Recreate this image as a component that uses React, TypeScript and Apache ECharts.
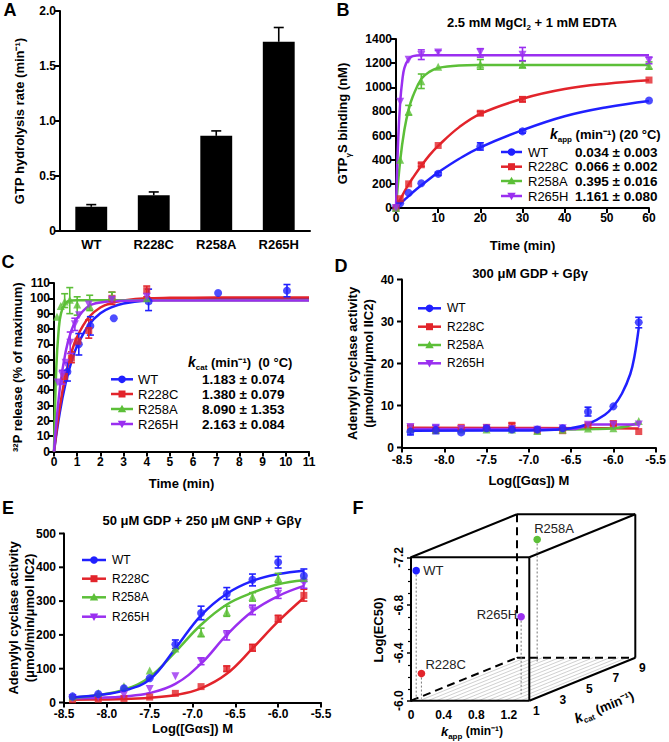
import React, { useEffect, useRef } from 'react';
import * as echarts from 'echarts';

const FONT = '"Liberation Sans", Arial, Helvetica, sans-serif';

const mutants = ['WT', 'R228C', 'R258A', 'R265H'];

// ---------- Panel A ----------
const aCategories = ['WT', 'R228C', 'R258A', 'R265H'];
const aRates = [0.22, 0.325, 0.865, 1.72];
const aErrTop = [0.24, 0.355, 0.91, 1.85];

// ---------- Panel B ----------
const bTimes = [0, 1, 3, 6, 10, 20, 30, 60];
const bWT = [0, 40, 125, 205, 283, 510, 635, 890];
const bR228C = [0, 77, 200, 358, 518, 785, 900, 1060];
const bR258A = [0, 400, 800, 1050, 1170, 1190, 1185, 1180];
const bR265H = [0, 880, 1228, 1268, 1288, 1290, 1270, 1220];
const bFitTimes = [0, 1, 2, 3, 4, 6, 8, 10, 15, 20, 30, 40, 50, 60];
const bFitWT = [0, 34, 67, 98, 130, 188, 243, 295, 408, 503, 645, 760, 835, 887];
const bFitR228C = [0, 70, 135, 195, 250, 350, 440, 515, 670, 780, 905, 985, 1030, 1058];
const bFitR258A = [0, 395, 650, 815, 925, 1070, 1130, 1160, 1180, 1184, 1185, 1185, 1185, 1185];
const bFitR265HTimes = [0, 0.5, 1, 1.5, 2, 3, 4, 6, 10, 60];
const bFitR265H = [0, 550, 880, 1060, 1160, 1235, 1258, 1265, 1265, 1265];
const bErrWT = [[10, 270, 296], [20, 480, 540], [30, 620, 650]];
const bErrR228C = [[6, 345, 372], [20, 770, 800], [30, 880, 920]];
const bErrR258A = [[3, 770, 850], [6, 990, 1110], [20, 1150, 1230], [30, 1165, 1215], [60, 1150, 1210]];
const bErrR265H = [[6, 1230, 1310], [10, 1270, 1305], [20, 1250, 1320], [30, 1220, 1330], [60, 1195, 1250]];
const bKappText = ['0.034 ± 0.003', '0.066 ± 0.002', '0.395 ± 0.016', '1.161 ± 0.080'];

// ---------- Panel C ----------
const cWTt = [0.58, 1.07, 1.57, 2.58, 4.08, 7.08, 10.05];
const cWT = [52, 70, 82, 87, 98, 103.5, 105];
const cR228Ct = [0.45, 0.75, 1.03, 1.5, 2.5, 4.0];
const cR228C = [49, 61, 72, 79, 100, 105];
const cR258At = [0.13, 0.29, 0.46, 0.68, 1.0, 1.54, 2.5, 4.0];
const cR258A = [88, 95, 98, 99, 96, 95, 101, 100];
const cR265Ht = [0.17, 0.36, 0.5, 0.7, 0.9, 1.08, 1.5, 2.5, 4.0];
const cR265H = [45, 50, 58, 71, 83, 89, 96, 99, 101];
const cFitT = [0, 0.25, 0.5, 0.75, 1, 1.5, 2, 2.5, 3, 4, 5, 7, 11];
const cFitWT = [0, 25.5, 44.6, 58.5, 69, 82.6, 90.3, 94.3, 96.6, 98.6, 99.2, 99.5, 99.5];
const cFitR228C = [0, 29, 50, 64.5, 75, 87.6, 94, 97, 98.6, 100, 100.3, 100.5, 100.5];
const cFitR258At = [0, 0.1, 0.2, 0.3, 0.5, 0.75, 1, 11];
const cFitR258A = [0, 55, 79, 90, 97, 98.6, 98.8, 98.8];
const cFitR265Ht = [0, 0.25, 0.5, 0.75, 1, 1.5, 2, 3, 4, 11];
const cFitR265H = [0, 41, 65, 79, 87, 95, 97.3, 98.4, 98.5, 98.5];
const cErrWT = [[0.58, 46, 58], [1.07, 63, 77], [1.57, 76, 88], [4.08, 92, 106], [10.05, 101, 109]];
const cErrR228C = [[0.75, 58, 65], [1.5, 74, 86], [2.5, 96, 104], [4.0, 101, 108]];
const cErrR258A = [[0.46, 94, 103], [0.68, 90, 107], [1.0, 89, 101], [1.54, 92, 102], [2.5, 100, 104]];
const cErrR265H = [[0.36, 44, 53], [0.7, 64, 78], [0.9, 79, 87]];
const cKcatText = ['1.183 ± 0.074', '1.380 ± 0.079', '8.090 ± 1.353', '2.163 ± 0.084'];

// ---------- Panel D ----------
const logGas = [-8.4, -8.1, -7.8, -7.5, -7.2, -6.9, -6.6, -6.3, -6.0, -5.7];
const dWT = [3.8, 4.2, 3.6, 4.6, 4.3, 4.3, 4.6, 8.5, 9.8, 29.8];
const dR228C = [4.8, 4.2, 4.8, 4.8, 5.3, 4.0, 4.0, 5.3, 5.7, 3.8];
const dR258A = [4.4, 4.3, 4.3, 4.3, 4.3, 3.9, 4.2, 4.5, 4.6, 6.3];
const dR265H = [4.9, 4.7, 4.4, 4.6, 4.4, 4.2, 4.6, 5.4, 5.4, 5.5];
const dFitWTx = [-8.4, -7.0, -6.7, -6.5, -6.3, -6.1, -6.0, -5.9, -5.8, -5.75, -5.7];
const dFitWT = [4.0, 4.05, 4.2, 4.6, 5.6, 7.8, 9.8, 12.8, 17.5, 21.8, 28.5];
const dFitR228Cx = [-8.4, -6.3, -5.7];
const dFitR228C = [4.7, 4.6, 4.5];
const dFitR258Ax = [-8.4, -6.5, -6.2, -6.0, -5.85, -5.7];
const dFitR258A = [4.3, 4.3, 4.4, 4.6, 5.0, 6.0];
const dFitR265Hx = [-8.4, -6.45, -6.35, -6.25, -5.7];
const dFitR265H = [4.4, 4.4, 5.0, 5.5, 5.5];
const dErrWT = [[-8.4, 3, 5.2], [-8.1, 3.3, 5.3], [-6.3, 7.5, 9.6], [-5.7, 28.5, 31]];
const dErrR228C = [[-7.2, 4.8, 5.8], [-6.0, 5.2, 6.2]];
const dYTicks = [0, 10, 20, 30, 40];

// ---------- Panel E ----------
const eWT = [18, 25, 42, 72, 172, 265, 322, 363, 415, 375];
const eR228C = [8, 10, 12, 16, 27, 47, 100, 162, 248, 317];
const eR258A = [18, 28, 48, 95, 160, 205, 268, 313, 368, 368];
const eR265H = [13, 16, 22, 40, 78, 122, 198, 273, 322, 352];
const eFitWT = [15, 22, 35, 68, 160, 258, 322, 360, 380, 390];
const eFitR228C = [8, 9, 10, 14, 22, 42, 85, 160, 240, 310];
const eFitR258A = [14, 22, 38, 75, 150, 230, 290, 325, 350, 362];
const eFitR265H = [12, 14, 18, 28, 55, 115, 200, 270, 315, 345];
const eErrWT = [[-7.2, 160, 185], [-6.9, 245, 285], [-6.6, 305, 340], [-6.3, 345, 380], [-6.0, 398, 432], [-5.7, 358, 395]];
const eErrR228C = [[-6.6, 92, 108], [-6.3, 152, 172], [-6.0, 238, 258], [-5.7, 300, 335]];
const eErrR258A = [[-6.9, 195, 220], [-6.6, 255, 285], [-6.3, 300, 325], [-6.0, 355, 382]];
const eErrR265H = [[-6.9, 112, 132], [-6.6, 185, 212], [-6.3, 260, 288], [-6.0, 308, 338], [-5.7, 338, 365]];
const eYTicks = [0, 100, 200, 300, 400, 500];

// ---------- Panel F ----------
const fKapp = [0.034, 0.066, 0.395, 1.161];
const fKcat = [1.183, 1.38, 8.09, 2.163];
const fLogEC50 = [-7.08, -6.21, -7.03, -6.65];
const fDepthTicks = [1, 3, 5, 7, 9];

// ---------- styles ----------
const COLORS: Record<string, string> = { WT: '#2020ff', R228C: '#e2242b', R258A: '#5cbf38', R265H: '#9a2ff0' };
const SYMBOLS: Record<string, string> = { WT: 'circle', R228C: 'rect', R258A: 'triangle', R265H: 'path://M0,0L10,0L5,9Z' };

const GRIDS = [
  { left: 60, top: 11, width: 250, height: 220 },
  { left: 396, top: 39, width: 253, height: 169 },
  { left: 54, top: 283, width: 255, height: 168.5 },
  { left: 402, top: 279.5, width: 254, height: 168 },
  { left: 64, top: 533.5, width: 257, height: 169 },
];

// F box geometry (front face + oblique depth)
const FX0 = 411, FY0 = 557.3, FX1 = 529.3, FY1 = 700.7, DX = 106, DY = -43;
const K0 = 1, K1 = 9;

const zip = (xs: number[], ys: number[]) => xs.map((x, i) => [x, ys[i]]);

const errRender = (color: string, cap: number, topOnly = false) => (params: any, api: any) => {
  const x = api.value(0), lo = api.value(1), hi = api.value(2);
  const a = api.coord([x, lo]);
  const b = api.coord([x, hi]);
  const st = { stroke: color, lineWidth: 1.6 };
  const children: any[] = [
    { type: 'line', shape: { x1: a[0], y1: a[1], x2: b[0], y2: b[1] }, style: st },
    { type: 'line', shape: { x1: b[0] - cap, y1: b[1], x2: b[0] + cap, y2: b[1] }, style: st },
  ];
  if (!topOnly) children.push({ type: 'line', shape: { x1: a[0] - cap, y1: a[1], x2: a[0] + cap, y2: a[1] }, style: st });
  return { type: 'group', children };
};

function panelSeries(gi: number, name: string, pts: number[][], fit: number[][], err: number[][], smooth: any = 0.4) {
  const c = COLORS[name];
  return [
    {
      type: 'line', name, xAxisIndex: gi, yAxisIndex: gi, data: fit, smooth,
      symbol: 'none', showSymbol: false, lineStyle: { color: c, width: 2.5 }, z: 2, silent: true,
    },
    {
      type: 'custom', xAxisIndex: gi, yAxisIndex: gi, data: err, encode: { x: 0, y: [1, 2] },
      renderItem: errRender(c, 3.5), z: 3, silent: true,
    },
    {
      type: 'scatter', name, xAxisIndex: gi, yAxisIndex: gi, data: pts, symbol: SYMBOLS[name],
      symbolSize: name === 'R228C' ? 7 : 8, itemStyle: { color: c }, z: 4, silent: true,
    },
  ];
}

const label = (fs = 12, extra: any = {}) => ({ color: '#000', fontFamily: FONT, fontWeight: 'bold', fontSize: fs, margin: 4, ...extra });
const nameStyle = (extra: any = {}) => ({ color: '#000', fontFamily: FONT, fontWeight: 'bold', fontSize: 13, ...extra });

function vAxis(gi: number, pos: string, min: number, max: number, interval: number, extra: any = {}) {
  return {
    type: 'value', gridIndex: gi, min, max, interval, position: pos, offset: 0,
    axisLine: { show: true, onZero: false, lineStyle: { color: '#000', width: 2 } },
    axisTick: { show: extra.hideTicks ? false : true, length: 5, lineStyle: { color: '#000', width: 2 } },
    axisLabel: label(12, {
      show: extra.hideTicks ? false : true,
      formatter: (v: number) => String(v),
      ...(extra.labelExtra || {}),
    }),
    splitLine: { show: false },
    nameLocation: 'middle',
    nameTextStyle: nameStyle(extra.nameExtra || {}),
    name: extra.name || '',
    nameGap: extra.nameGap || 30,
  };
}

function txt(x: number, y: number, text: string, o: any = {}) {
  return {
    type: 'text', x, y, silent: true, rotation: o.rotation || 0, z: 50,
    style: {
      text, fill: '#000', fontFamily: FONT, fontSize: o.fontSize || 12, fontWeight: o.fontWeight || 'normal',
      fontStyle: o.fontStyle || 'normal',
      align: o.align || 'left', verticalAlign: o.verticalAlign || 'middle', rich: o.rich,
    },
  };
}

function symbolEl(name: string, cx: number, cy: number) {
  const c = COLORS[name];
  if (name === 'WT') return { type: 'circle', shape: { cx, cy, r: 3.8 }, style: { fill: c }, silent: true };
  if (name === 'R228C') return { type: 'rect', shape: { x: cx - 3.5, y: cy - 3.5, width: 7, height: 7 }, style: { fill: c }, silent: true };
  if (name === 'R258A') return { type: 'polygon', shape: { points: [[cx, cy - 4.2], [cx + 4.2, cy + 3.2], [cx - 4.2, cy + 3.2]] }, style: { fill: c }, silent: true };
  return { type: 'polygon', shape: { points: [[cx - 4.2, cy - 3.2], [cx + 4.2, cy - 3.2], [cx, cy + 4.2]] }, style: { fill: c }, silent: true };
}

function legendEls(x1: number, x2: number, nameX: number, ys: number[], fs: number, values?: string[], valueX?: number, valueFs?: number) {
  const els: any[] = [];
  mutants.forEach((m, i) => {
    const y = ys[i];
    els.push({ type: 'line', shape: { x1, y1: y, x2, y2: y }, style: { stroke: COLORS[m], lineWidth: 2.5 }, silent: true });
    els.push(symbolEl(m, (x1 + x2) / 2, y));
    els.push(txt(nameX, y, m, { fontSize: fs }));
    if (values && valueX !== undefined) els.push(txt(valueX, y, values[i], { fontSize: valueFs || fs, fontWeight: 'bold' }));
  });
  return els;
}

const subRich = (fs: number) => ({
  a: { fontFamily: FONT, fontSize: fs, fontWeight: 'bold', color: '#000', lineHeight: fs + 6, verticalAlign: 'middle' },
  k: { fontFamily: FONT, fontSize: fs + 1, fontWeight: 'bold', fontStyle: 'italic', color: '#000', lineHeight: fs + 6, verticalAlign: 'middle' },
  s: { fontFamily: FONT, fontSize: Math.round(fs * 0.65), fontWeight: 'bold', color: '#000', lineHeight: fs + 6, verticalAlign: 'bottom' },
});

function fGraphic() {
  const els: any[] = [];
  const W = FX1 - FX0;
  const L = (x1: number, y1: number, x2: number, y2: number, style: any) => ({ type: 'line', shape: { x1, y1, x2, y2 }, style, silent: true });
  const solid = { stroke: '#000', lineWidth: 2 };
  const dashed = { stroke: '#000', lineWidth: 2, lineDash: [8, 5] };
  for (let i = 1; i < 14; i++) {
    const x = FX0 + (W * i) / 14;
    els.push(L(x, FY1, x + DX, FY1 + DY, { stroke: '#c4c4c4', lineWidth: 0.8 }));
  }
  els.push(L(FX0 + DX, FY0 + DY, FX0 + DX, FY1 + DY, dashed));
  els.push(L(FX0 + DX, FY1 + DY, FX1 + DX, FY1 + DY, dashed));
  els.push(L(FX0, FY1, FX0 + DX, FY1 + DY, dashed));
  els.push(L(FX0, FY0, FX1, FY0, solid));
  els.push(L(FX1, FY0, FX1, FY1, solid));
  els.push(L(FX0, FY1, FX1, FY1, solid));
  els.push(L(FX0, FY0, FX0 + DX, FY0 + DY, solid));
  els.push(L(FX1, FY0, FX1 + DX, FY0 + DY, solid));
  els.push(L(FX0 + DX, FY0 + DY, FX1 + DX, FY0 + DY, solid));
  els.push(L(FX1 + DX, FY0 + DY, FX1 + DX, FY1 + DY, solid));
  els.push(L(FX1, FY1, FX1 + DX, FY1 + DY, solid));
  fDepthTicks.forEach((k) => {
    const f = (k - K0) / (K1 - K0);
    els.push(txt(FX1 + f * DX + 7, FY1 + f * DY + 10, String(k), { fontSize: 12, fontWeight: 'bold', align: 'center' }));
  });
  els.push(txt(604, 707, '{k|k}{s|cat}{a| (min⁻¹)}', { rich: subRich(13), align: 'center', rotation: Math.atan2(-DY, DX) }));
  els.push(txt(472, 731, '{k|k}{s|app}{a| (min⁻¹)}', { rich: subRich(12), align: 'center' }));
  els.push(txt(378, 630, 'Log(EC50)', { fontSize: 13, fontWeight: 'bold', align: 'center', rotation: Math.PI / 2 }));
  return els;
}

// y-axis ticks + labels for D and E, placed along each grid's linear value range
function yTickEls(gi: number, min: number, max: number, ticks: number[]) {
  const g = GRIDS[gi];
  const els: any[] = [];
  ticks.forEach((v) => {
    const y = g.top + g.height * (1 - (v - min) / (max - min));
    els.push({ type: 'line', shape: { x1: g.left - 5, y1: y, x2: g.left, y2: y }, style: { stroke: '#000', lineWidth: 2 }, silent: true, z: 50 });
    els.push(txt(g.left - 8, y, String(v), { fontSize: 12, fontWeight: 'bold', align: 'right' }));
  });
  return els;
}

const fLabelOffsets = [[7, 0, 'left'], [4, -9, 'left'], [-3, -11, 'left'], [-4, -2, 'right']];

function baseGraphic() {
  return [
    txt(10, 10, 'A', { fontSize: 18, fontWeight: 'bold', align: 'center' }),
    txt(343, 10, 'B', { fontSize: 18, fontWeight: 'bold', align: 'center' }),
    txt(8, 262, 'C', { fontSize: 18, fontWeight: 'bold', align: 'center' }),
    txt(341, 266, 'D', { fontSize: 18, fontWeight: 'bold', align: 'center' }),
    txt(8, 508, 'E', { fontSize: 18, fontWeight: 'bold', align: 'center' }),
    txt(358, 508, 'F', { fontSize: 18, fontWeight: 'bold', align: 'center' }),
    txt(532, 22, '{a|2.5 mM MgCl}{s|2}{a| + 1 mM EDTA}', { rich: subRich(13), align: 'center' }),
    txt(530, 273, '300 μM GDP + Gβγ', { fontSize: 13, fontWeight: 'bold', align: 'center' }),
    txt(202, 520, '50 μM GDP + 250 μM GNP + Gβγ', { fontSize: 13, fontWeight: 'bold', align: 'center' }),
    txt(352, 363.5, 'Adenylyl cyclase activity', { fontSize: 13, fontWeight: 'bold', align: 'center', rotation: Math.PI / 2 }),
    txt(368, 363.5, '(μmol/min/μmol IIC2)', { fontSize: 13, fontWeight: 'bold', align: 'center', rotation: Math.PI / 2 }),
    txt(13, 618, 'Adenylyl cyclase activity', { fontSize: 13, fontWeight: 'bold', align: 'center', rotation: Math.PI / 2 }),
    txt(29, 618, '(μmol/min/μmol IIC2)', { fontSize: 13, fontWeight: 'bold', align: 'center', rotation: Math.PI / 2 }),
    txt(550, 134, '{k|k}{s|app}{a| (min⁻¹) (20 °C)}', { rich: subRich(13) }),
    txt(188, 362, '{k|k}{s|cat}{a| (min⁻¹)  (0 °C)}', { rich: subRich(13) }),
    ...legendEls(501, 522, 528, [152, 166.7, 181, 196], 13, bKappText, 575, 13.5),
    ...legendEls(111, 133, 138, [379.3, 394, 409, 424], 13, cKcatText, 202, 13.5),
    ...legendEls(418, 441, 447, [308.3, 326.7, 345, 363.3], 12),
    ...legendEls(82, 106, 112, [560, 578.7, 597.3, 616.7], 12),
    ...yTickEls(3, 0, 40, dYTicks),
    ...yTickEls(4, 0, 500, eYTicks),
    ...fGraphic(),
  ];
}

function buildOption() {
  const grids = [...GRIDS, { left: FX0, top: FY0, width: FX1 - FX0, height: FY1 - FY0 }];
  const fmt1 = (v: number) => (Math.abs(v) < 1e-9 ? '0' : v.toFixed(1));
  const xAxis: any[] = [
    {
      type: 'category', gridIndex: 0, data: aCategories, boundaryGap: true, position: 'bottom',
      axisLine: { show: true, lineStyle: { color: '#000', width: 2 } },
      axisTick: { show: false },
      axisLabel: label(13, { margin: 7 }),
    },
    vAxis(1, 'bottom', 0, 60, 10, { name: 'Time (min)', nameGap: 31 }),
    vAxis(2, 'bottom', 0, 11, 1, { name: 'Time (min)', nameGap: 25 }),
    vAxis(3, 'bottom', -8.5, -5.5, 0.5, { name: 'Log([Gαs]) M', nameGap: 26, labelExtra: { formatter: fmt1, margin: 6 } }),
    vAxis(4, 'bottom', -8.5, -5.5, 0.5, { name: 'Log([Gαs]) M', nameGap: 19, labelExtra: { formatter: fmt1, margin: 5 } }),
    {
      type: 'value', gridIndex: 5, min: 0, max: 1.45, interval: 0.4, position: 'bottom',
      axisLine: { show: false }, axisTick: { show: false }, splitLine: { show: false },
      axisLabel: label(12, { margin: 8, formatter: fmt1, showMaxLabel: false }),
    },
  ];
  const yAxis: any[] = [
    vAxis(0, 'left', 0, 2, 0.5, { name: 'GTP hydrolysis rate (min⁻¹)', nameGap: 34, labelExtra: { formatter: fmt1 } }),
    vAxis(1, 'left', 0, 1400, 200, {
      name: '{a|GTP}{s|γ}{a|S binding (nM)}', nameGap: 44,
      nameExtra: { rich: subRich(13) },
    }),
    vAxis(2, 'left', 0, 110, 10, { name: '³²P release (% of maximum)', nameGap: 30 }),
    vAxis(3, 'left', 0, 40, 10, { hideTicks: true }),
    vAxis(4, 'left', 0, 500, 100, { hideTicks: true }),
    {
      type: 'value', gridIndex: 5, min: -7.2, max: -6.0, interval: 0.4, inverse: true, position: 'left',
      axisLine: { show: true, lineStyle: { color: '#000', width: 2 } },
      axisTick: { show: true, length: 4, lineStyle: { color: '#000', width: 1.5 } },
      minorTick: { show: true, splitNumber: 4, length: 3, lineStyle: { color: '#000', width: 1.2 } },
      splitLine: { show: false },
      axisLabel: label(12, { margin: 6, rotate: 90, formatter: fmt1 }),
    },
  ];

  const series: any[] = [
    {
      type: 'bar', xAxisIndex: 0, yAxisIndex: 0, data: aRates, barWidth: '51%',
      itemStyle: { color: '#000' }, silent: true, z: 2,
    },
    {
      type: 'custom', xAxisIndex: 0, yAxisIndex: 0, encode: { x: 0, y: [1, 2] },
      data: aCategories.map((_, i) => [i, aRates[i], aErrTop[i]]),
      renderItem: errRender('#000', 5, true), z: 3, silent: true,
    },
    ...panelSeries(1, 'WT', zip(bTimes, bWT), zip(bFitTimes, bFitWT), bErrWT),
    ...panelSeries(1, 'R228C', zip(bTimes, bR228C), zip(bFitTimes, bFitR228C), bErrR228C),
    ...panelSeries(1, 'R258A', zip(bTimes, bR258A), zip(bFitTimes, bFitR258A), bErrR258A),
    ...panelSeries(1, 'R265H', zip(bTimes, bR265H), zip(bFitR265HTimes, bFitR265H), bErrR265H),
    ...panelSeries(2, 'WT', zip(cWTt, cWT), zip(cFitT, cFitWT), cErrWT),
    ...panelSeries(2, 'R228C', zip(cR228Ct, cR228C), zip(cFitT, cFitR228C), cErrR228C),
    ...panelSeries(2, 'R258A', zip(cR258At, cR258A), zip(cFitR258At, cFitR258A), cErrR258A),
    ...panelSeries(2, 'R265H', zip(cR265Ht, cR265H), zip(cFitR265Ht, cFitR265H), cErrR265H),
    ...panelSeries(3, 'R228C', zip(logGas, dR228C), zip(dFitR228Cx, dFitR228C), dErrR228C),
    ...panelSeries(3, 'R258A', zip(logGas, dR258A), zip(dFitR258Ax, dFitR258A), []),
    ...panelSeries(3, 'R265H', zip(logGas, dR265H), zip(dFitR265Hx, dFitR265H), [], false),
    ...panelSeries(3, 'WT', zip(logGas, dWT), zip(dFitWTx, dFitWT), dErrWT),
    ...panelSeries(4, 'R228C', zip(logGas, eR228C), zip(logGas, eFitR228C), eErrR228C),
    ...panelSeries(4, 'R265H', zip(logGas, eR265H), zip(logGas, eFitR265H), eErrR265H),
    ...panelSeries(4, 'R258A', zip(logGas, eR258A), zip(logGas, eFitR258A), eErrR258A),
    ...panelSeries(4, 'WT', zip(logGas, eWT), zip(logGas, eFitWT), eErrWT),
    {
      type: 'custom', xAxisIndex: 5, yAxisIndex: 5, silent: true, z: 5,
      data: mutants.map((_, i) => [fKapp[i], fLogEC50[i], fKcat[i], i]),
      encode: { x: 0, y: 1 },
      renderItem: (params: any, api: any) => {
        const kapp = api.value(0), ec = api.value(1), kc = api.value(2), i = api.value(3);
        const f = (kc - K0) / (K1 - K0);
        const p = api.coord([kapp, ec]);
        const fl = api.coord([kapp, -6.0]);
        const P = [p[0] + f * DX, p[1] + f * DY];
        const Fp = [fl[0] + f * DX, fl[1] + f * DY];
        const name = mutants[i];
        const off = fLabelOffsets[i] as any[];
        return {
          type: 'group',
          children: [
            { type: 'line', shape: { x1: P[0], y1: P[1], x2: Fp[0], y2: Fp[1] }, style: { stroke: '#777', lineWidth: 1, lineDash: [2, 2] } },
            { type: 'circle', shape: { cx: P[0], cy: P[1], r: 3.8 }, style: { fill: COLORS[name] } },
            {
              type: 'text', x: P[0] + off[0], y: P[1] + off[1],
              style: { text: name, fill: '#222', fontFamily: FONT, fontSize: 13, align: off[2], verticalAlign: 'middle' },
            },
          ],
        };
      },
    },
  ];

  return {
    animation: false,
    backgroundColor: '#fff',
    textStyle: { fontFamily: FONT },
    grid: grids,
    xAxis,
    yAxis,
    series,
    graphic: baseGraphic(),
  };
}

export default function App() {
  const ref = useRef<HTMLDivElement>(null);
  useEffect(() => {
    if (!ref.current) return;
    const chart = echarts.init(ref.current, null, { renderer: 'svg', width: 669, height: 742 });
    chart.setOption(buildOption() as any);
    return () => chart.dispose();
  }, []);
  return <div ref={ref} style={{ position: 'absolute', left: 0, top: 0, width: 669, height: 742, background: '#fff' }} />;
}
